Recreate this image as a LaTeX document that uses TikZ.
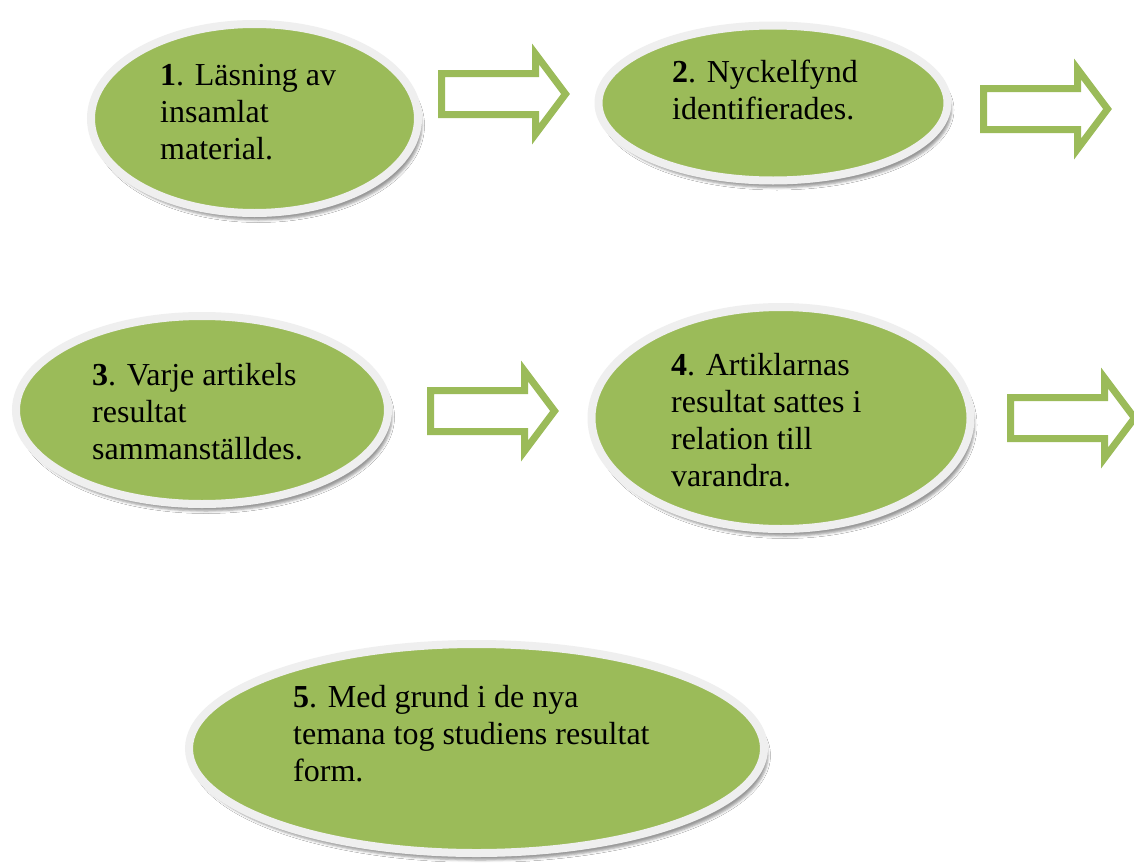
\documentclass[tikz,border=0pt]{standalone}
\usepackage{fontspec}
\setmainfont{Liberation Serif}
\usetikzlibrary{shapes.geometric,shadows.blur}
\definecolor{leaf}{HTML}{9BBB59}
\definecolor{rim}{HTML}{EFEFEF}
\tikzset{
  stage/.style={ellipse, draw=rim, line width=8pt, fill=leaf, inner sep=0pt,
    blur shadow={shadow xshift=4pt, shadow yshift=-7pt, shadow blur radius=2.5pt, shadow opacity=40}},
  stagetext/.style={anchor=base west, align=left, inner sep=0pt,
    font=\fontsize{32}{36.8}\selectfont},
  blockarrow/.style={draw=leaf, line width=7pt, fill=white, line join=miter, miter limit=10},
  pics/flowarrow/.style={code={
    \draw[blockarrow] (0,-20.5) -- (94,-20.5) -- (94,-40) -- (124,0) -- (94,40) -- (94,20.5) -- (0,20.5) -- cycle;}}
}
\begin{document}
\begin{tikzpicture}[x=1pt,y=-1pt]
\useasboundingbox[fill=white] (0,0) rectangle (1134,862);
% stages
\node[stage, minimum width=327pt, minimum height=189pt] (e1) at (254.5,118.5) {};
\node[stage, minimum width=349pt, minimum height=155pt] (e2) at (773,103) {};
\node[stage, minimum width=372pt, minimum height=188pt] (e3) at (202,410) {};
\node[stage, minimum width=379pt, minimum height=222pt] (e4) at (781,418) {};
\node[stage, minimum width=575pt, minimum height=209pt] (e5) at (476.5,748.5) {};
% texts (anchored at the baseline of the last line)
\node[stagetext] (t1) at (160,159) {\textbf{1}. Läsning av\\insamlat\\material.};
\node[stagetext] (t2) at (672,119.5) {\textbf{2}. Nyckelfynd\\identifierades.};
\node[stagetext] (t3) at (92,459) {\textbf{3}. Varje artikels\\resultat\\sammanställdes.};
\node[stagetext] (t4) at (671,486) {\textbf{4}. Artiklarnas\\resultat sattes i\\relation till\\varandra.};
\node[stagetext] (t5) at (293,781) {\textbf{5}. Med grund i de nya\\temana tog studiens resultat\\form.};
% arrows
\pic (a1) at (441.5,94) {flowarrow};
\pic (a2) at (983.5,109) {flowarrow};
\pic (a3) at (430.5,411) {flowarrow};
\pic (a4) at (1010.5,418) {flowarrow};
\end{tikzpicture}
\end{document}
